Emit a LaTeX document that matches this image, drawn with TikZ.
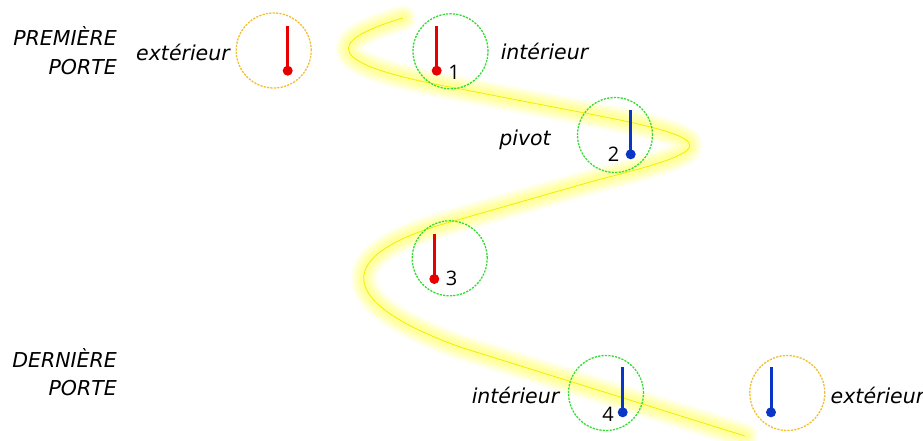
\documentclass[tikz,border=0pt]{standalone}
\usepackage{fontspec}
\setmainfont{DejaVu Sans}
\newfontfamily\numfont{Open Sans}
\definecolor{tred}{HTML}{E80000}
\definecolor{tblue}{HTML}{0A36C8}
\definecolor{dgreen}{HTML}{33DD33}
\definecolor{dorange}{HTML}{F0C030}
\definecolor{glow}{HTML}{FFFF70}
\definecolor{core}{HTML}{F2EE00}
\tikzset{
  lbl/.style={font=\fontsize{20.5}{24}\selectfont\itshape, inner sep=0pt, anchor=base},
  num/.style={font=\fontsize{20}{24}\selectfont\numfont, inner sep=0pt, anchor=base},
  extc/.style={circle, draw=dorange, dash pattern=on 2.2pt off 1.2pt, line width=1.3pt, minimum size=75pt, inner sep=0pt},
  intc/.style={circle, draw=dgreen, dash pattern=on 2.2pt off 1.2pt, line width=1.3pt, minimum size=75pt, inner sep=0pt},
  stem/.style={line width=3pt},
  bulb/.style={circle, inner sep=0pt, minimum size=10pt},
}
\begin{document}
\begin{tikzpicture}[x=1pt,y=-1pt]
\useasboundingbox (0,0) rectangle (923,440);
\def\glowpath{(403,18) .. controls (322,42) and (326,64) .. (450,87) -- (600,116) .. controls (728,141) and (712,151) .. (597,180) -- (440,225) .. controls (340,255) and (330,300) .. (460,347) -- (745,436)}
\foreach \w/\o in {26/0.12,22/0.15,18/0.2,13/0.25,8/0.3}{
  \draw[glow, line width=\w pt, opacity=\o, line cap=round, line join=round] \glowpath;
}
\draw[core, line width=0.8pt] \glowpath;

% circles
\node[extc] (e1) at (273.7,50.5) {};
\node[intc] (c1) at (450.5,51.3) {};
\node[intc] (c2) at (615,135) {};
\node[intc] (c3) at (449.7,258.3) {};
\node[intc] (c4) at (606,393) {};
\node[extc] (e2) at (787.3,393) {};

% thermometers
\node[bulb, fill=tred] (be1) at (287.7,70.7) {};
\coordinate (te1) at (287.7,26);
\draw[stem, tred] (te1) -- (be1.center);
\node[bulb, fill=tred] (b1) at (436.7,70.7) {};
\coordinate (t1) at (436.7,26);
\draw[stem, tred] (t1) -- (b1.center);
\node[bulb, fill=tblue] (b2) at (630.7,154.3) {};
\coordinate (t2) at (630.7,110);
\draw[stem, tblue] (t2) -- (b2.center);
\node[bulb, fill=tred] (b3) at (434.3,279) {};
\coordinate (t3) at (434.3,234.3);
\draw[stem, tred] (t3) -- (b3.center);
\node[bulb, fill=tblue] (b4) at (622.7,412.3) {};
\coordinate (t4) at (622.7,367.3);
\draw[stem, tblue] (t4) -- (b4.center);
\node[bulb, fill=tblue] (be2) at (771,412.3) {};
\coordinate (te2) at (771,367.3);
\draw[stem, tblue] (te2) -- (be2.center);

% numbers
\node[num] (n1) at (454,79.3) {1};
\node[num] (n2) at (613.5,161.7) {2};
\node[num] (n3) at (451.5,285) {3};
\node[num] (n4) at (608,421) {4};

% labels
\node[lbl, anchor=base east] (pr1) at (117,45.7) {PREMIÈRE};
\node[lbl, anchor=base east] (pr2) at (117,74) {PORTE};
\node[lbl, anchor=base east] (dr1) at (117,367.3) {DERNIÈRE};
\node[lbl, anchor=base east] (dr2) at (117,395.7) {PORTE};
\node[lbl] (ex1) at (183,60) {extérieur};
\node[lbl] (in1) at (544.5,59) {intérieur};
\node[lbl] (pv) at (525,145.7) {pivot};
\node[lbl] (in2) at (515.5,403) {intérieur};
\node[lbl] (ex2) at (877.5,403) {extérieur};
\end{tikzpicture}
\end{document}
